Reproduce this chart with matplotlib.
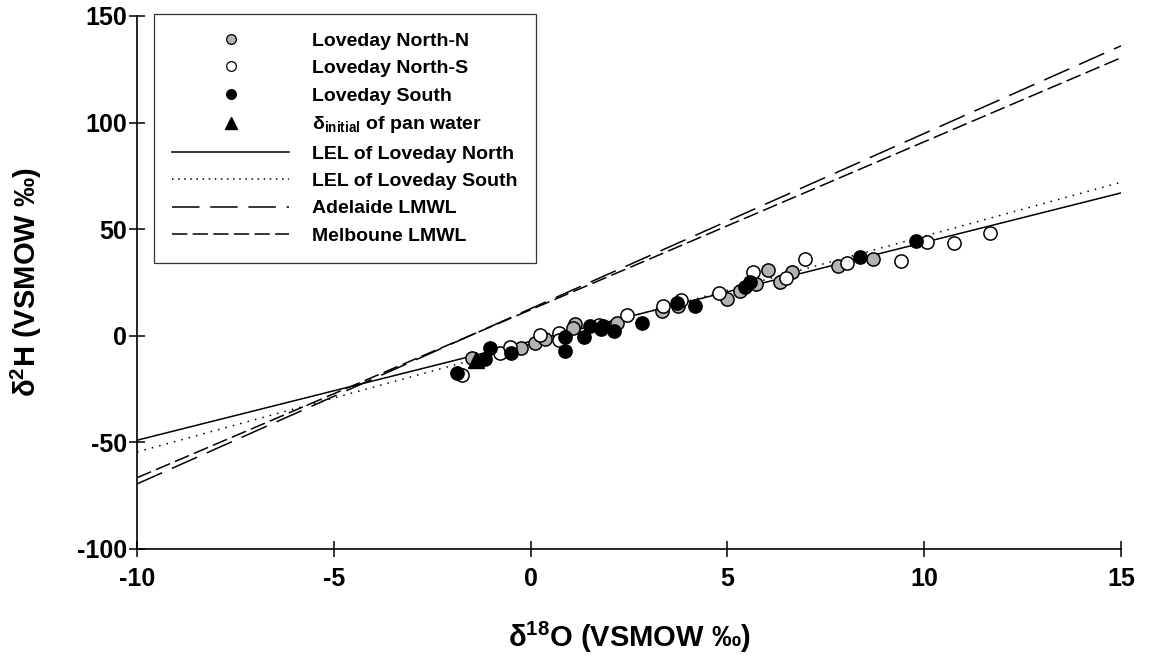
import matplotlib
matplotlib.use("Agg")
import matplotlib.pyplot as plt
import numpy as np
from matplotlib.lines import Line2D

plt.rcParams['font.family'] = ['Liberation Sans', 'DejaVu Sans']
plt.rcParams['font.weight'] = 'bold'
plt.rcParams['axes.unicode_minus'] = False
plt.rcParams['mathtext.fontset'] = 'custom'
plt.rcParams['mathtext.rm'] = 'Liberation Sans'
plt.rcParams['mathtext.bf'] = 'Liberation Sans:bold'
plt.rcParams['mathtext.it'] = 'Liberation Sans:italic'

# ---- data ----
north_n_x = [-1.5, -0.25, 0.11, 0.36, 1.13, 1.08, 2.20, 3.33, 3.75, 4.98, 5.32, 5.72,
             6.03, 6.33, 6.63, 7.81, 8.70]
north_n_y = [-10.6, -5.9, -3.5, -1.6, 5.5, 3.5, 5.9, 11.5, 14.0, 17.3, 21.2, 24.3,
             30.9, 25.1, 30.1, 32.7, 35.9]

north_s_x = [-1.75, -0.78, -0.53, 0.24, 0.71, 0.71, 1.74, 2.44, 3.37, 3.81, 4.79, 5.65,
             6.50, 6.97, 8.04, 9.41, 10.06, 10.76, 11.67]
north_s_y = [-18.4, -7.9, -5.4, 0.4, 1.3, -1.9, 5.1, 9.8, 14.2, 16.8, 20.2, 30.1,
             27.0, 35.9, 34.0, 35.2, 44.1, 43.7, 48.4]

south_x = [-1.88, -1.16, -1.03, -0.50, 0.87, 0.87, 1.36, 1.52, 1.80, 1.83, 2.12, 2.84,
           3.71, 4.17, 5.44, 5.57, 8.36, 9.79]
south_y = [-17.6, -11.0, -5.9, -8.2, -0.4, -7.0, -0.4, 4.6, 3.0, 4.6, 2.4, 5.9,
           15.2, 14.0, 23.0, 25.4, 36.8, 44.6]

pan_x = [-1.4]
pan_y = [-11.5]

# line equations: (slope, intercept)
lel_north = (4.64, -2.6)
lel_south = (5.06, -3.9)
adelaide = (8.22, 12.7)
melbourne = (7.88, 12.2)

x_range = [-10, 15]
y_range = [-100, 150]
x_ticks = [-10, -5, 0, 5, 10, 15]
y_ticks = [-100, -50, 0, 50, 100, 150]

fig = plt.figure(figsize=(11.63, 6.58), dpi=100)
ax = fig.add_axes([0.1178, 0.1657, 0.8461, 0.81])

xl = np.array(x_range, dtype=float)
ax.plot(xl, lel_north[0] * xl + lel_north[1], color='black', lw=1.1, ls='-')
ax.plot(xl, lel_south[0] * xl + lel_south[1], color='black', lw=1.1, ls=(0, (1, 4)))
ax.plot(xl, adelaide[0] * xl + adelaide[1], color='black', lw=1.1, ls=(0, (18, 7)))
ax.plot(xl, melbourne[0] * xl + melbourne[1], color='black', lw=1.1, ls=(0, (10, 3.5)))

ms = 9.5
ax.plot(north_n_x, north_n_y, 'o', ms=ms, mfc='#b3b3b3', mec='black', mew=1.1, ls='none')
ax.plot(north_s_x, north_s_y, 'o', ms=ms, mfc='white', mec='black', mew=1.1, ls='none')
ax.plot(south_x, south_y, 'o', ms=ms, mfc='black', mec='black', mew=1.1, ls='none')
ax.plot(pan_x, pan_y, '^', ms=11, mfc='black', mec='black', ls='none')

ax.set_xlim(x_range)
ax.set_ylim(y_range)
ax.set_xticks(x_ticks)
ax.set_yticks(y_ticks)
for s in ['top', 'right']:
    ax.spines[s].set_visible(False)
for s in ['left', 'bottom']:
    ax.spines[s].set_linewidth(1.2)
ax.tick_params(direction='inout', length=12, width=1.1, labelsize=18)
ax.tick_params(axis='x', pad=7)
ax.tick_params(axis='y', pad=1)
for lab in ax.get_xticklabels() + ax.get_yticklabels():
    lab.set_fontweight('bold')

ax.set_xlabel(r'$\mathrm{\delta}^{\mathbf{18}}$O (VSMOW ‰)', fontsize=21,
              fontweight='bold', labelpad=21)
ax.set_ylabel(r'$\mathrm{\delta}^{\mathbf{2}}$H (VSMOW ‰)', fontsize=21,
              fontweight='bold', labelpad=24)

handles = [
    Line2D([], [], marker='o', ls='none', ms=7, mfc='#b3b3b3', mec='black', mew=0.9),
    Line2D([], [], marker='o', ls='none', ms=7, mfc='white', mec='black', mew=0.9),
    Line2D([], [], marker='o', ls='none', ms=7, mfc='black', mec='black', mew=0.9),
    Line2D([], [], marker='^', ls='none', ms=9, mfc='black', mec='black'),
    Line2D([], [], color='black', lw=1.1, ls='-'),
    Line2D([], [], color='black', lw=1.1, ls=(0, (1, 3))),
    Line2D([], [], color='black', lw=1.1, ls=(0, (18, 7))),
    Line2D([], [], color='black', lw=1.1, ls=(0, (10, 3.5))),
]
labels = ['Loveday North-N', 'Loveday North-S', 'Loveday South',
          r'$\mathrm{\delta}_{\mathbf{initial}}$ of pan water',
          'LEL of Loveday North', 'LEL of Loveday South', 'Adelaide LMWL', 'Melboune LMWL']
leg = ax.legend(handles, labels, loc='upper left', bbox_to_anchor=(0.0173, 1.004),
                borderaxespad=0, frameon=True, fancybox=False, handlelength=6.0,
                handletextpad=1.2, labelspacing=0.5, borderpad=0.95,
                prop={'family': 'Liberation Sans', 'weight': 'bold', 'size': 14})
leg.get_frame().set_edgecolor('black')
leg.get_frame().set_linewidth(0.9)

fig.savefig('out.png', dpi=100)
